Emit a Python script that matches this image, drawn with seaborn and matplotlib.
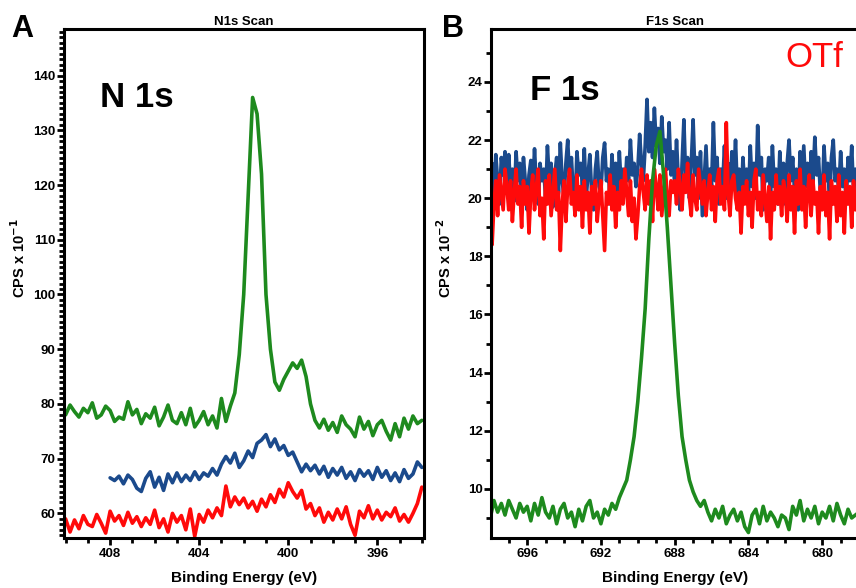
import numpy as np
import pandas as pd
import matplotlib
matplotlib.use("Agg")
import matplotlib.pyplot as plt
from matplotlib.ticker import MultipleLocator
import seaborn as sns

# ── DATA ───────────────────────────────────────────────────

# Panel A: N 1s, 410 -> 394 eV, 0.2 eV steps
n1s_energy = np.round(np.arange(410.0, 393.9, -0.2), 1)
n1s_green = [
    78.0, 79.8, 78.6, 77.6, 79.2, 78.4, 80.2, 77.4, 78.0, 79.6,
    78.8, 76.8, 77.6, 77.2, 80.4, 78.0, 79.0, 76.4, 78.2, 77.4,
    79.4, 76.0, 77.6, 79.8, 77.0, 76.4, 78.4, 76.2, 79.2, 75.8,
    77.0, 78.6, 76.2, 77.8, 75.6, 81.0, 76.8, 79.6, 82.0, 89.0,
    100.0, 118.0, 136.0, 133.0, 122.0, 100.0, 90.0, 84.0, 82.5, 84.5,
    86.0, 87.5, 86.5, 88.0, 85.0, 80.0, 77.0, 75.6, 77.2, 75.2,
    76.6, 74.8, 77.8, 76.2, 75.4, 74.0, 77.6, 75.4, 76.8, 74.2,
    76.2, 77.0, 75.0, 73.4, 76.4, 74.0, 77.4, 75.4, 77.8, 76.4,
    77.0,
]
n1s_red = [
    59.0, 56.6, 58.8, 57.2, 59.6, 58.0, 57.6, 59.8, 58.2, 56.4,
    60.4, 58.6, 59.6, 57.8, 60.2, 58.2, 59.4, 57.6, 59.2, 58.0,
    60.6, 57.4, 59.0, 56.6, 60.0, 58.4, 59.6, 57.0, 60.8, 55.8,
    59.8, 58.4, 60.6, 59.2, 61.0, 59.6, 65.0, 61.2, 63.0, 61.6,
    62.8, 61.0, 62.2, 60.4, 62.6, 61.2, 63.4, 62.0, 64.4, 63.0,
    65.6, 64.0, 62.8, 64.2, 60.8, 61.8, 59.6, 61.0, 58.4, 60.2,
    58.8, 60.8, 59.0, 61.2, 58.0, 56.0, 60.4, 59.2, 61.4, 59.0,
    60.6, 58.8, 60.2, 59.4, 61.0, 58.6, 59.8, 58.4, 60.0, 61.8,
    64.8,
]
# blue trace only starts at 408 eV
n1s_blue_energy = np.round(np.arange(408.0, 393.9, -0.2), 1)
n1s_blue = [
    66.5, 66.0, 66.8, 65.4, 67.0, 66.2, 64.6, 64.0, 66.4, 67.6,
    64.8, 66.6, 64.2, 67.2, 65.6, 67.4, 65.8, 67.0, 66.0, 67.6,
    66.2, 67.4, 66.8, 68.2, 67.0, 69.0, 70.4, 69.2, 71.0, 68.4,
    69.6, 71.4, 70.2, 72.8, 73.4, 74.4, 72.2, 73.6, 71.6, 72.4,
    70.6, 71.2, 69.4, 67.6, 69.0, 67.8, 68.8, 67.2, 68.6, 66.6,
    68.2, 67.0, 68.4, 66.4, 67.6, 66.0, 68.0, 66.8, 67.8, 66.2,
    68.4, 66.6, 67.8, 66.0, 67.4, 65.8, 68.0, 66.4, 67.2, 69.4,
    68.4,
]

# Panel B: F 1s, 698 -> 678 eV
f1s_green_energy = np.round(np.arange(698.0, 677.9, -0.2), 1)
f1s_green = [
    9.0, 9.6, 9.2, 9.5, 9.1, 9.6, 9.3, 9.0, 9.5, 9.2,
    9.4, 8.9, 9.5, 9.1, 9.7, 9.2, 9.0, 9.4, 8.8, 9.3,
    9.5, 9.0, 9.2, 8.7, 9.3, 8.9, 9.4, 9.6, 9.0, 9.2,
    8.8, 9.3, 9.1, 9.5, 9.3, 9.7, 10.0, 10.3, 11.0, 11.8,
    13.0, 14.5, 16.2, 18.6, 20.6, 21.8, 22.3, 20.8, 19.0, 17.0,
    15.0, 13.2, 11.8, 11.0, 10.3, 9.9, 9.6, 9.4, 9.6, 9.2,
    8.9, 9.3, 9.0, 9.4, 8.8, 9.1, 9.3, 8.9, 9.2, 8.7,
    8.5, 9.1, 9.3, 8.8, 9.4, 8.9, 9.2, 9.0, 8.7, 9.1,
    9.0, 8.6, 9.4, 9.1, 9.6, 8.9, 9.3, 9.0, 9.4, 8.8,
    9.2, 9.0, 9.4, 8.9, 9.5, 9.1, 8.8, 9.3, 9.0, 9.1,
    9.2,
]
# blue and red traces in 0.1 eV steps (one row per eV)
f1s_energy = np.round(np.arange(698.0, 677.95, -0.1), 1)
f1s_blue = [
    20.4, 21.2, 20.0, 21.5, 20.6, 19.8, 21.4, 20.8, 21.6, 20.2,
    21.5, 20.4, 21.0, 19.9, 21.6, 20.6, 21.2, 20.0, 21.4, 20.6,
    19.6, 20.8, 21.3, 20.2, 21.7, 20.4, 19.8, 21.2, 20.6, 21.0,
    20.0, 21.8, 20.6, 21.2, 19.7, 20.8, 21.4, 20.2, 21.9, 20.6,
    20.0, 21.2, 22.0, 20.6, 21.4, 20.2, 19.8, 21.6, 20.8, 21.2,
    20.4, 21.7, 20.0, 20.8, 21.5, 20.2, 19.6, 21.0, 21.6, 20.4,
    20.2, 21.4, 21.9, 20.6, 21.0, 19.8, 21.5, 20.4, 21.2, 20.0,
    21.6, 20.4, 21.0, 20.2, 21.4, 20.6, 22.0, 20.8, 21.2, 20.4,
    21.0, 22.2, 21.2, 20.6, 21.8, 23.4, 21.6, 22.6, 21.4, 23.1,
    21.8, 22.4, 21.2, 22.8, 21.6, 22.0, 21.0, 22.6, 20.8, 21.6,
    20.4, 22.0, 20.6, 19.6, 21.2, 22.7, 20.6, 21.4, 20.0, 21.2,
    22.7, 20.8, 21.4, 20.0, 21.6, 19.4, 20.6, 21.8, 20.2, 21.0,
    20.4, 22.6, 20.6, 21.4, 19.8, 21.0, 20.4, 21.8, 20.0, 21.2,
    19.8, 21.6, 20.6, 22.0, 20.2, 21.0, 19.6, 21.4, 20.4, 21.0,
    20.0, 21.8, 20.4, 21.2, 20.0, 22.5, 20.8, 21.4, 19.6, 21.0,
    20.6, 21.4, 20.0, 21.8, 20.4, 21.0, 19.8, 21.6, 20.4, 21.2,
    19.8, 21.2, 22.0, 20.6, 21.4, 20.2, 21.0, 19.6, 21.6, 20.4,
    21.8, 20.4, 21.2, 20.0, 21.6, 20.6, 22.1, 20.8, 21.4, 20.2,
    20.0, 21.8, 20.6, 21.2, 19.8, 21.4, 22.0, 20.6, 21.0, 20.2,
    21.6, 20.4, 21.0, 19.8, 21.4, 20.6, 21.8, 20.2, 21.0, 20.6,
    20.8,
]
f1s_red = [
    19.6, 18.4, 19.8, 20.6, 19.4, 20.8, 20.2, 19.6, 21.0, 20.4,
    19.6, 20.6, 19.2, 20.2, 21.0, 19.8, 20.4, 19.0, 20.6, 19.8,
    20.4, 18.8, 20.2, 20.8, 19.6, 20.4, 21.0, 19.4, 20.0, 18.6,
    20.6, 19.8, 20.8, 19.4, 20.2, 21.0, 19.6, 20.2, 18.2, 19.8,
    20.6, 19.2, 20.4, 21.0, 19.8, 20.2, 19.4, 20.8, 19.6, 20.4,
    19.0, 20.6, 19.6, 20.2, 18.8, 20.4, 19.8, 20.6, 19.2, 20.0,
    20.6, 19.4, 18.2, 20.2, 19.8, 20.8, 19.6, 20.4, 19.0, 20.2,
    19.6, 20.6, 19.8, 21.0, 20.2, 19.4, 20.6, 19.2, 20.0, 18.6,
    19.4, 20.4, 21.0, 20.2, 19.6, 20.8, 19.8, 20.6, 19.2, 21.0,
    20.4, 19.6, 20.8, 19.4, 20.2, 21.0, 20.0, 19.4, 20.6, 20.2,
    20.6, 19.8, 21.0, 20.4, 19.6, 20.8, 20.2, 21.2, 20.0, 19.4,
    20.8, 20.0, 19.6, 21.0, 20.4, 19.8, 20.6, 19.4, 20.2, 20.8,
    19.6, 20.4, 19.2, 20.6, 21.0, 19.8, 20.4, 19.6, 22.6, 20.2,
    19.4, 20.6, 20.8, 20.0, 19.6, 20.2, 18.8, 20.4, 19.8, 20.6,
    19.4, 20.2, 19.0, 20.6, 21.0, 19.6, 20.2, 19.4, 20.8, 20.0,
    19.2, 20.4, 18.6, 20.2, 19.6, 20.8, 19.8, 20.4, 19.4, 20.6,
    20.2, 19.2, 20.8, 19.6, 20.4, 18.8, 20.6, 19.8, 21.0, 19.6,
    20.4, 19.0, 20.2, 20.8, 19.4, 20.6, 19.8, 20.2, 18.8, 20.4,
    19.6, 20.8, 19.4, 20.2, 18.6, 20.6, 19.8, 20.4, 19.2, 20.8,
    19.4, 20.2, 18.8, 20.6, 19.8, 20.4, 19.0, 20.6, 19.6, 20.2,
    20.0,
]

GREEN = "#1e8a1e"
BLUE = "#1b4a8c"
RED = "#ff0a0a"

# ── STYLE ──────────────────────────────────────────────────
sns.set_style("ticks")
plt.rcParams["font.family"] = ["Liberation Sans", "DejaVu Sans"]
plt.rcParams["font.weight"] = "bold"
plt.rcParams["axes.unicode_minus"] = False
for k in ["text.color", "axes.labelcolor", "xtick.color", "ytick.color"]:
    plt.rcParams[k] = "black"
plt.rcParams["axes.linewidth"] = 2.2
for k in ["xtick.major.width", "ytick.major.width", "xtick.minor.width", "ytick.minor.width"]:
    plt.rcParams[k] = 2.0
plt.rcParams["xtick.major.size"] = 5
plt.rcParams["ytick.major.size"] = 5
plt.rcParams["xtick.minor.size"] = 3.5
plt.rcParams["ytick.minor.size"] = 3.5
plt.rcParams["xtick.major.pad"] = 2
plt.rcParams["ytick.major.pad"] = 1

fig = plt.figure(figsize=(8.56, 5.88), dpi=100)
axA = fig.add_axes([0.0748, 0.085, 0.4206, 0.8656])
axB = fig.add_axes([0.5736, 0.085, 0.43, 0.8656])

lw = 2.6

# ── PANEL A ────────────────────────────────────────────────
dfA = pd.DataFrame({"energy": n1s_energy, "green": n1s_green, "red": n1s_red})
dfAb = pd.DataFrame({"energy": n1s_blue_energy, "blue": n1s_blue})
sns.lineplot(data=dfAb, x="energy", y="blue", ax=axA, color=BLUE, lw=lw, sort=False)
sns.lineplot(data=dfA, x="energy", y="red", ax=axA, color=RED, lw=lw, sort=False)
sns.lineplot(data=dfA, x="energy", y="green", ax=axA, color=GREEN, lw=lw, sort=False)

axA.set_xlim(410.07, 393.9)
axA.set_ylim(55.5, 148.5)
axA.xaxis.set_major_locator(MultipleLocator(4))
axA.xaxis.set_minor_locator(MultipleLocator(1))
axA.yaxis.set_minor_locator(MultipleLocator(1))
axA.set_yticks([60, 70, 80, 90, 100, 110, 120, 130, 140])
axA.set_xlabel("Binding Energy (eV)", fontsize=11, fontweight="bold", labelpad=8)
axA.set_ylabel("CPS x 10$^{\\mathbf{-1}}$", fontsize=10.5, fontweight="bold")
axA.yaxis.set_label_coords(-0.1, 0.55)
axA.set_title("N1s Scan", fontsize=9.5, fontweight="bold", pad=3)
axA.text(0.1, 0.866, "N 1s", transform=axA.transAxes, fontsize=25,
         fontweight="bold", va="center", ha="left")

# ── PANEL B ────────────────────────────────────────────────
dfBg = pd.DataFrame({"energy": f1s_green_energy, "green": f1s_green})
dfB = pd.DataFrame({"energy": f1s_energy, "blue": f1s_blue, "red": f1s_red})
sns.lineplot(data=dfB, x="energy", y="blue", ax=axB, color=BLUE, lw=lw, sort=False)
sns.lineplot(data=dfB, x="energy", y="red", ax=axB, color=RED, lw=lw, sort=False)
sns.lineplot(data=dfBg, x="energy", y="green", ax=axB, color=GREEN, lw=lw, sort=False)

axB.set_xlim(697.96, 678.0)
axB.set_ylim(8.31, 25.82)
axB.xaxis.set_major_locator(MultipleLocator(4))
axB.xaxis.set_minor_locator(MultipleLocator(1))
axB.yaxis.set_minor_locator(MultipleLocator(1))
axB.set_yticks([10, 12, 14, 16, 18, 20, 22, 24])
axB.set_xlabel("Binding Energy (eV)", fontsize=11, fontweight="bold", labelpad=8)
axB.set_ylabel("CPS x 10$^{\\mathbf{-2}}$", fontsize=10.5, fontweight="bold")
axB.yaxis.set_label_coords(-0.1, 0.55)
axB.set_title("F1s Scan", fontsize=9.5, fontweight="bold", pad=3)
axB.text(0.106, 0.88, "F 1s", transform=axB.transAxes, fontsize=25,
         fontweight="bold", va="center", ha="left")
axB.text(0.80, 0.945, "OTf", transform=axB.transAxes, fontsize=25,
         fontweight="normal", color=RED, va="center", ha="left")

for ax in (axA, axB):
    ax.tick_params(axis="both", which="both", direction="out", labelsize=9.5)
    for lab in ax.get_xticklabels() + ax.get_yticklabels():
        lab.set_fontweight("bold")
    for s in ax.spines.values():
        s.set_visible(True)
        s.set_color("black")

# panel letters
fig.text(0.013, 0.951, "A", fontsize=22, fontweight="bold", va="center")
fig.text(0.516, 0.951, "B", fontsize=22, fontweight="bold", va="center")

fig.savefig("out.png", dpi=100)
